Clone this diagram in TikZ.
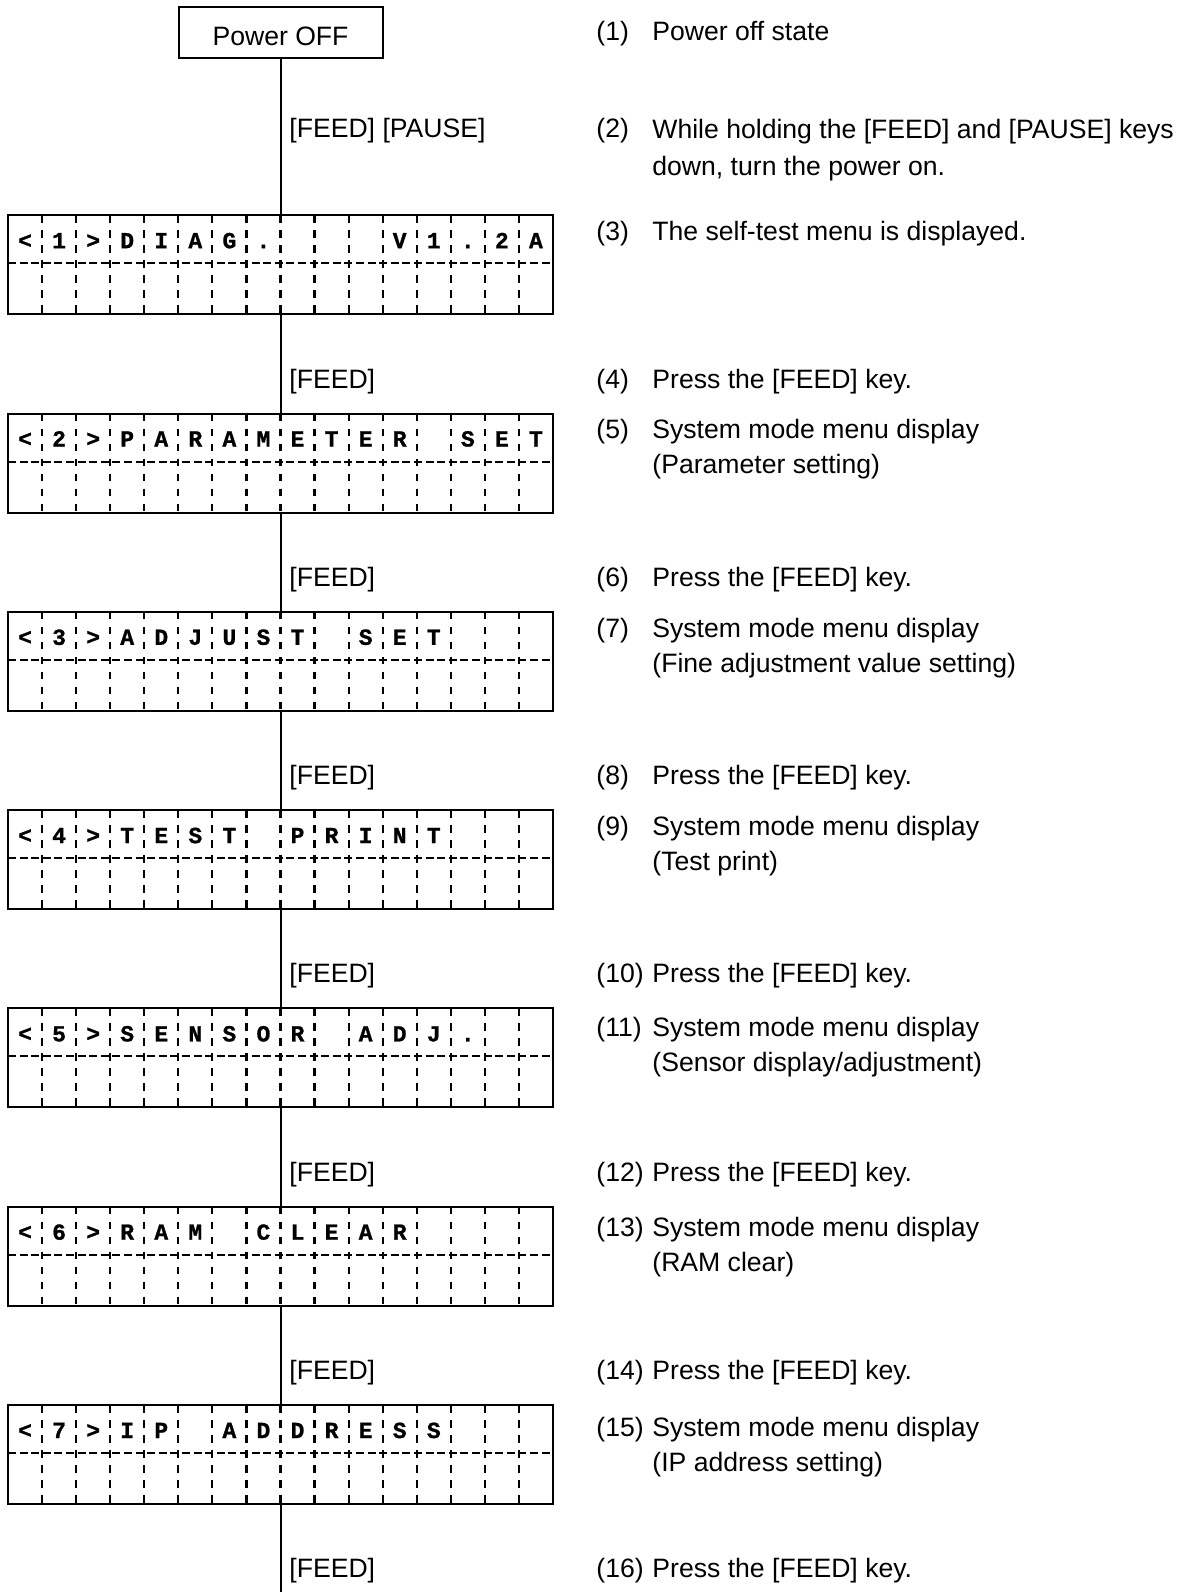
\documentclass[tikz,border=0pt]{standalone}
\usepackage{fontspec}
\setmainfont{Liberation Sans}
\newfontfamily\lcdfont{Liberation Mono}[BoldFont={Liberation Mono Bold}, BoldFeatures={FakeBold=1}]
\usetikzlibrary{positioning}

\begin{document}
\begin{tikzpicture}[x=0.5pt, y=-0.5pt,
  every node/.style={inner sep=0pt},
  txt/.style={anchor=base west, align=left, font=\fontsize{13.3}{17.5}\selectfont},
  pwrbox/.style={draw, line width=1pt, minimum width=102pt, minimum height=25.5pt, text height=13.2pt, font=\fontsize{13.3}{15}\selectfont},
  lcd/.style={draw, line width=1pt, minimum width=272.5pt, minimum height=49.5pt},
  lcdchar/.style={anchor=base, font=\lcdfont\bfseries\fontsize{11.5}{13}\selectfont},
  celldash/.style={line width=1.1pt, dash pattern=on 3.75pt off 3.75pt},
  rowdash/.style={line width=1pt, dash pattern=on 4pt off 1.8pt},
  conn/.style={line width=1pt}
]
\useasboundingbox (0,0) rectangle (1187,1592);

\node[pwrbox] (off) at (280.5,32.5) {Power OFF};

% displays
\foreach \k/\row in {1/{<,1,>,D,I,A,G,.,{},{},{},V,1,.,2,A},
                     2/{<,2,>,P,A,R,A,M,E,T,E,R,{},S,E,T},
                     3/{<,3,>,A,D,J,U,S,T,{},S,E,T,{},{},{}},
                     4/{<,4,>,T,E,S,T,{},P,R,I,N,T,{},{},{}},
                     5/{<,5,>,S,E,N,S,O,R,{},A,D,J,.,{},{}},
                     6/{<,6,>,R,A,M,{},C,L,E,A,R,{},{},{},{}},
                     7/{<,7,>,I,P,{},A,D,D,R,E,S,S,{},{},{}}}{
  \pgfmathsetmacro\ytop{215.2+198.3*(\k-1)}
  \node[lcd] (lcd\k) at (280.5,\ytop+49.5) {};
  \foreach \j in {1,...,15}
    \draw[celldash] ({8+34.06*\j},\ytop) -- ({8+34.06*\j},\ytop+99);
  \draw[rowdash] (8,\ytop+48) -- (553,\ytop+48);
  \foreach \c [count=\i] in \row
    \node[lcdchar] (c\k-\i) at ({8+34.06*(\i-0.5)},\ytop+33) {\c};
}

\draw[conn] (off.south) -- (lcd1.north);
\foreach \k [evaluate=\k as \j using int(\k+1)] in {1,...,6}
  \draw[conn] (lcd\k.south) -- (lcd\j.north);
\coordinate (bottom) at (280.5,1592);
\draw[conn] (lcd7.south) -- (bottom);

% keys
\node[txt] (keys) at (289,137.7) {[FEED] [PAUSE]};

% steps (base = last line)
\node[txt] (num1) at (596,40.7) {(1)};
\node[txt] (step1) at (652,40.7) {Power off state};
\node[txt] (num2) at (596,137.7) {(2)};
\node[txt] (step2) at (652,175) {While holding the [FEED] and [PAUSE] keys\\[1pt]down, turn the power on.};
\node[txt] (num3) at (596,240) {(3)};
\node[txt] (step3) at (652,240) {The self-test menu is displayed.};

\foreach \n [count=\k] in {4,6,...,16}{
  \pgfmathsetmacro\ybase{388+198.3*(\k-1)}
  \node[txt] (feed\n) at (289,\ybase) {[FEED]};
  \node[txt] (num\n) at (596,\ybase) {(\n)};
  \node[txt] (step\n) at (652,\ybase) {Press the [FEED] key.};
}

\foreach \n/\ybase/\sub in {5/438/Parameter setting, 7/637/Fine adjustment value setting,
                            9/835/Test print, 11/1036/{Sensor display/adjustment},
                            13/1236/RAM clear, 15/1436/IP address setting}{
  \node[txt] (num\n) at (596,\ybase) {(\n)};
  \node[txt] (step\n) at (652,\ybase+35) {System mode menu display\\(\sub)};
}
\end{tikzpicture}
\end{document}
